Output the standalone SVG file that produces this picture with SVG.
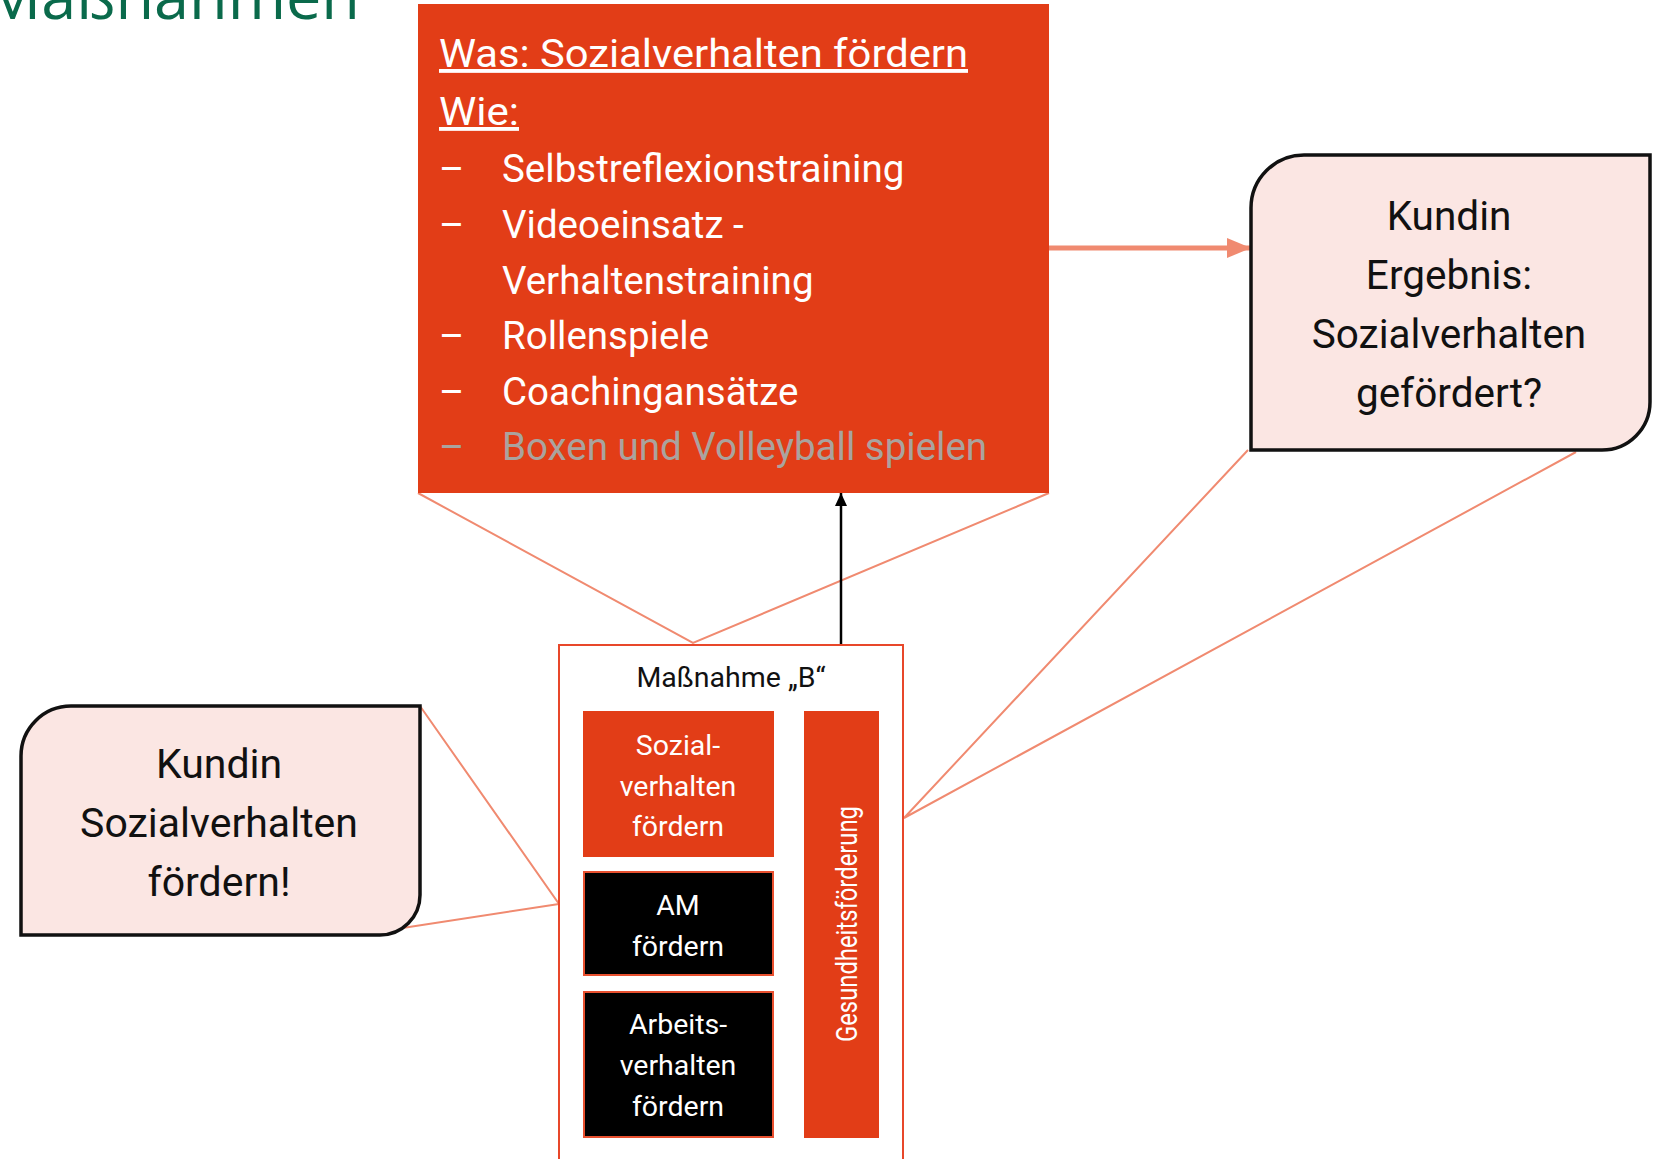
<svg xmlns="http://www.w3.org/2000/svg" width="1658" height="1159" viewBox="0 0 1658 1159">
  <style>
    .body { font-family: Roboto, "Liberation Sans", sans-serif; }
    .wht { fill: #ffffff; }
    .blk { fill: #111111; }
    .gry { fill: #aaa39e; }
    .link { stroke: #f08a70; stroke-width: 2; fill: none; }
    .callout { fill: #fbe6e3; stroke: #111111; stroke-width: 3.5; }
    .orange { fill: #e23d17; }
    .dark { fill: #000000; stroke: #e8502f; stroke-width: 2; }
  </style>
  <defs>
    <marker id="salmonHead" markerUnits="userSpaceOnUse" markerWidth="26" markerHeight="24" refX="24" refY="12" orient="auto">
      <path d="M0,2 L24,12 L0,22 Z" fill="#f08a70"/>
    </marker>
    <marker id="blackHead" markerUnits="userSpaceOnUse" markerWidth="14" markerHeight="14" refX="13" refY="7" orient="auto">
      <path d="M0,1 L13,7 L0,13 Z" fill="#000000"/>
    </marker>
  </defs>

  <!-- page heading, partly above the top edge -->
  <text x="360" y="19" text-anchor="end" font-family="'Open Sans', 'Noto Sans', sans-serif" font-size="63" fill="#0a6a4b">Maßnahmen</text>

  <!-- connectors -->
  <g id="connectors">
    <polyline class="link" points="418,493 693,643 1049,493"/>
    <polyline class="link" points="420,706 559,904 383,931"/>
    <polyline class="link" points="1248,450 904,818 1576,452"/>
    <line x1="1049" y1="248" x2="1251" y2="248" stroke="#f08a70" stroke-width="5" marker-end="url(#salmonHead)"/>
    <line x1="841" y1="644" x2="841" y2="493" stroke="#000000" stroke-width="2.5" marker-end="url(#blackHead)"/>
  </g>

  <!-- measure content: what and how -->
  <g id="node-was-wie" class="body">
    <rect x="418" y="4" width="631" height="489" class="orange"/>
    <text x="439" y="67" font-size="38.5" class="wht" text-decoration="underline" textLength="529" lengthAdjust="spacingAndGlyphs">Was: Sozialverhalten  fördern</text>
    <text x="439" y="125" font-size="38.5" class="wht" text-decoration="underline" textLength="80" lengthAdjust="spacingAndGlyphs">Wie:</text>
    <g font-size="38.5" class="wht">
      <text x="439" y="182">–</text><text x="502" y="182">Selbstreflexionstraining</text>
      <text x="439" y="238">–</text><text x="502" y="238">Videoeinsatz -</text>
      <text x="502" y="294">Verhaltenstraining</text>
      <text x="439" y="349">–</text><text x="502" y="349">Rollenspiele</text>
      <text x="439" y="405">–</text><text x="502" y="405">Coachingansätze</text>
    </g>
    <g font-size="38.5" class="gry">
      <text x="439" y="460">–</text><text x="502" y="460">Boxen und Volleyball spielen</text>
    </g>
  </g>

  <!-- result callout -->
  <g id="node-ergebnis" class="body">
    <path class="callout" d="M1251,450 L1251,208 A53,53 0 0 1 1304,155 L1650,155 L1650,402 A48,48 0 0 1 1602,450 Z"/>
    <g font-size="40.5" class="blk" text-anchor="middle">
      <text x="1449" y="230">Kundin</text>
      <text x="1449" y="289">Ergebnis:</text>
      <text x="1449" y="348">Sozialverhalten</text>
      <text x="1449" y="407">gefördert?</text>
    </g>
  </g>

  <!-- goal callout -->
  <g id="node-ziel" class="body">
    <path class="callout" d="M21,935 L21,756 A50,50 0 0 1 71,706 L420,706 L420,895 A40,40 0 0 1 380,935 Z"/>
    <g font-size="41" class="blk" text-anchor="middle">
      <text x="219" y="778">Kundin</text>
      <text x="219" y="837">Sozialverhalten</text>
      <text x="219" y="896">fördern!</text>
    </g>
  </g>

  <!-- measure B with its modules -->
  <g id="node-massnahme-b" class="body">
    <rect x="559" y="645" width="344" height="530" fill="#ffffff" stroke="#e8472a" stroke-width="2"/>
    <text x="731" y="687" font-size="28.5" class="blk" text-anchor="middle">Maßnahme „B“</text>
  </g>

  <g id="node-sozialverhalten" class="body">
    <rect x="583" y="711" width="191" height="146" class="orange"/>
    <g font-size="28.5" class="wht" text-anchor="middle">
      <text x="678" y="755">Sozial-</text>
      <text x="678" y="796">verhalten</text>
      <text x="678" y="836">fördern</text>
    </g>
  </g>

  <g id="node-am" class="body">
    <rect x="584" y="872" width="189" height="103" class="dark"/>
    <g font-size="28.5" class="wht" text-anchor="middle">
      <text x="678" y="915">AM</text>
      <text x="678" y="956">fördern</text>
    </g>
  </g>

  <g id="node-arbeitsverhalten" class="body">
    <rect x="584" y="992" width="189" height="145" class="dark"/>
    <g font-size="28.5" class="wht" text-anchor="middle">
      <text x="678" y="1034">Arbeits-</text>
      <text x="678" y="1075">verhalten</text>
      <text x="678" y="1116">fördern</text>
    </g>
  </g>

  <g id="node-gesundheit" class="body">
    <rect x="804" y="711" width="75" height="427" class="orange"/>
    <text transform="translate(857,924) rotate(-90)" x="0" y="0" font-size="30" class="wht" text-anchor="middle" textLength="236" lengthAdjust="spacingAndGlyphs">Gesundheitsförderung</text>
  </g>
</svg>
